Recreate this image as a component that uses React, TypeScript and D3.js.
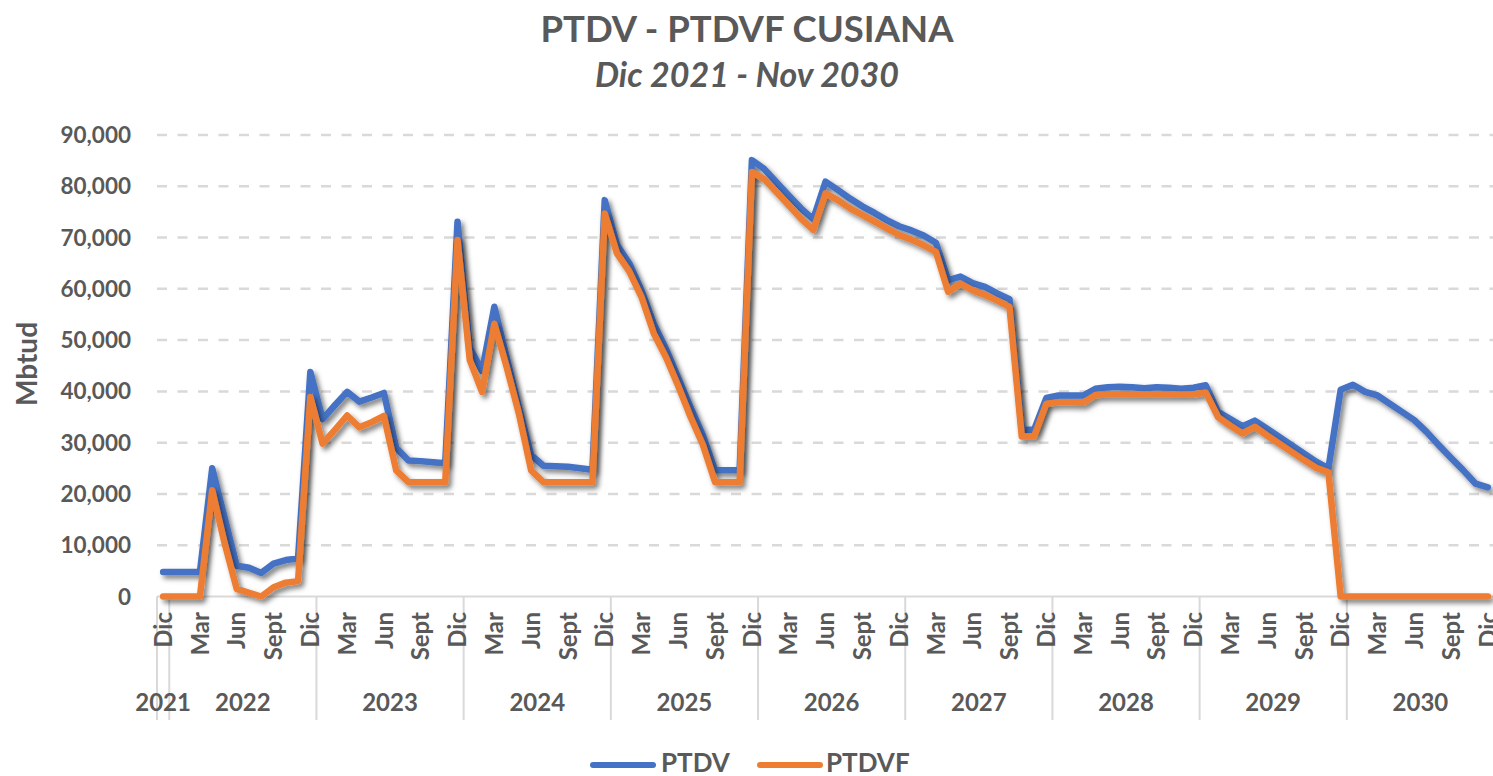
import React from "react";
import * as d3 from "d3";

const TITLE = "PTDV - PTDVF CUSIANA";
const SUBTITLE = "Dic 2021 - Nov 2030";
const Y_TITLE = "Mbtud";

const MONTHS = ["Ene", "Feb", "Mar", "Abr", "May", "Jun", "Jul", "Ago", "Sept", "Oct", "Nov", "Dic"];
const YEARS = [2021, 2022, 2023, 2024, 2025, 2026, 2027, 2028, 2029, 2030];
// first category is Dic 2021, then every month 2022..2030
const categories: { year: number; month: string }[] = [{ year: 2021, month: "Dic" }];
YEARS.slice(1).forEach((yr) => MONTHS.forEach((m) => categories.push({ year: yr, month: m })));

const Y_TICKS = [0, 10000, 20000, 30000, 40000, 50000, 60000, 70000, 80000, 90000];

const PTDV = [
  4800, 4800, 4800, 4800, 25000, 15500, 6000, 5600, 4600, 6400, 7100, 7400,
  43800, 34600, 37300, 39900, 38000, 38800, 39700, 29000, 26500, 26400, 26200, 26000,
  73100, 48500, 44000, 56500, 46700, 37000, 27600, 25500, 25400, 25300, 25000, 24700,
  77300, 68600, 65000, 59700, 53200, 48300, 42600, 36900, 31500, 24600, 24600, 24600,
  85100, 83400, 80800, 78200, 75700, 73600, 80900, 79300, 77600, 76100, 74800, 73400,
  72200, 71400, 70400, 69000, 61700, 62400, 61100, 60400, 59100, 58000, 32500, 32500,
  38700, 39200, 39200, 39200, 40500, 40800, 40900, 40800, 40600, 40800, 40700, 40500,
  40700, 41200, 36000, 34600, 33200, 34300, 32700, 31100, 29500, 27900, 26300, 25000,
  40300, 41300, 39900, 39200, 37600, 36000, 34400, 32100, 29500, 27000, 24600, 22000,
  21300,
];

const PTDVF = [
  0, 0, 0, 0, 20700, 10500, 1500, 700, 0, 1800, 2700, 3000,
  38900, 29800, 32500, 35300, 33000, 34000, 35200, 24600, 22300, 22300, 22300, 22300,
  69500, 46100, 39900, 53200, 44800, 35700, 24600, 22300, 22300, 22300, 22300, 22300,
  74700, 66900, 63400, 58400, 51300, 46600, 41000, 35000, 29600, 22300, 22300, 22300,
  82800, 81400, 78900, 76300, 73700, 71500, 78600, 77300, 75700, 74400, 73100, 71800,
  70500, 69600, 68500, 67200, 59400, 61000, 59700, 58800, 57700, 56500, 31200, 31200,
  37600, 37900, 37900, 37800, 39300, 39400, 39400, 39400, 39400, 39400, 39400, 39400,
  39400, 39800, 35000, 33300, 31800, 33100, 31400, 29800, 28200, 26600, 25100, 24200,
  0, 0, 0, 0, 0, 0, 0, 0, 0, 0, 0, 0,
  0,
];

const SERIES = [
  { name: "PTDV", values: PTDV, color: "#4472C4" },
  { name: "PTDVF", values: PTDVF, color: "#ED7D31" },
];

const W = 1493;
const H = 776;
const TEXT = "#595959";
const GRID = "#D9D9D9";
const FONT = "Lato, 'Open Sans', sans-serif";

export default function App() {
  const x = d3
    .scaleBand<number>()
    .domain(categories.map((_, i) => i))
    .range([157, 1494])
    .paddingInner(0)
    .paddingOuter(0);
  const bw = x.bandwidth();
  const cx = (i: number) => (x(i) as number) + bw / 2;
  const y = d3.scaleLinear().domain([0, 90000]).range([596.5, 135]);
  const fmt = d3.format(",");

  const line = d3
    .line<number>()
    .x((_, i) => cx(i))
    .y((d) => y(d))
    .curve(d3.curveLinear);

  // year group boundaries
  const boundaries: number[] = [];
  categories.forEach((c, i) => {
    if (i === 0 || c.year !== categories[i - 1].year) boundaries.push(x(i) as number);
  });
  const groups = YEARS.map((yr) => {
    const idx = categories.map((c, i) => (c.year === yr ? i : -1)).filter((i) => i >= 0);
    const x0 = x(idx[0]) as number;
    const x1 = (x(idx[idx.length - 1]) as number) + bw;
    return { yr, mid: (x0 + x1) / 2 };
  });

  return (
    <svg
      width={W}
      height={H}
      style={{ position: "absolute", left: 0, top: 0, background: "#fff" }}
      fontFamily={FONT}
    >
      <defs>
        <filter id="shadow" x="-5%" y="-5%" width="110%" height="120%">
          <feDropShadow dx="3" dy="3.5" stdDeviation="2.6" floodColor="#000" floodOpacity="0.5" />
        </filter>
      </defs>
      <rect width={W} height={H} fill="#fff" />

      {/* title */}
      <text x={747} y={42} textAnchor="middle" fontSize={36.5} fontWeight="bold" fill={TEXT}>
        {TITLE}
      </text>
      <text x={747} y={87} textAnchor="middle" fontSize={34} fontStyle="italic" fontWeight="bold" fill={TEXT}>
        {SUBTITLE}
      </text>

      {/* grid */}
      {Y_TICKS.map((t) => (
        <g key={t}>
          {t === 0 ? (
            <line x1={157} x2={1494} y1={y(t)} y2={y(t)} stroke={GRID} strokeWidth={2} />
          ) : (
            <line
              x1={157}
              x2={1494}
              y1={y(t)}
              y2={y(t)}
              stroke={GRID}
              strokeWidth={2.5}
              strokeDasharray="10 10.5"
            />
          )}
          <text
            x={131}
            y={y(t)}
            dy="0.36em"
            textAnchor="end"
            fontSize={22.5}
            fontWeight="bold"
            fill={TEXT}
          >
            {fmt(t)}
          </text>
        </g>
      ))}

      {/* y title */}
      <text
        transform={`translate(37,364) rotate(-90)`}
        textAnchor="middle"
        fontSize={28}
        fontWeight="bold"
        fill={TEXT}
      >
        {Y_TITLE}
      </text>

      {/* year separators */}
      {boundaries.map((b, i) => (
        <line key={i} x1={b} x2={b} y1={596.5} y2={720} stroke={GRID} strokeWidth={2} />
      ))}

      {/* month labels */}
      {categories.map((c, i) =>
        i % 3 === 0 ? (
          <text
            key={i}
            transform={`translate(${cx(i)},612) rotate(-90)`}
            dy="0.36em"
            textAnchor="end"
            fontSize={24}
            fontWeight="bold"
            fill={TEXT}
          >
            {c.month}
          </text>
        ) : null
      )}

      {/* year labels */}
      {groups.map((g) => (
        <text key={g.yr} x={g.mid} y={711} textAnchor="middle" fontSize={24} fontWeight="bold" fill={TEXT}>
          {g.yr}
        </text>
      ))}

      {/* series */}
      {SERIES.map((s) => (
        <path
          key={s.name}
          d={line(s.values) as string}
          fill="none"
          stroke={s.color}
          strokeWidth={6.5}
          strokeLinejoin="round"
          strokeLinecap="round"
          filter="url(#shadow)"
        />
      ))}

      {/* legend */}
      {[
        { s: SERIES[0], x0: 593, tx: 661 },
        { s: SERIES[1], x0: 760, tx: 826 },
      ].map(({ s, x0, tx }) => (
        <g key={s.name}>
          <line x1={x0} x2={x0 + 60} y1={765} y2={765} stroke={s.color} strokeWidth={6} strokeLinecap="round" />
          <text x={tx} y={772} fontSize={26} fontWeight="bold" fill={TEXT}>
            {s.name}
          </text>
        </g>
      ))}
    </svg>
  );
}
